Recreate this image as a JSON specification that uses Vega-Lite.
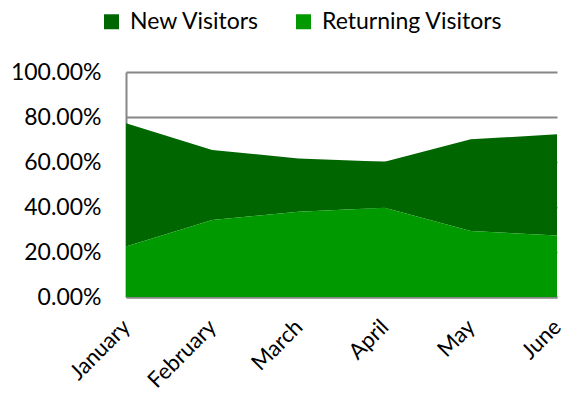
{
  "$schema": "https://vega.github.io/schema/vega-lite/v6.json",
  "autosize": "none",
  "width": 431,
  "height": 225,
  "padding": {"left": 126, "top": 72, "right": 5, "bottom": 103},
  "background": "white",
  "config": {"view": {"stroke": null}, "font": "Lato"},
  "data": {
    "values": [
      {"month": "January", "series": "New Visitors", "value": 0.548},
      {"month": "February", "series": "New Visitors", "value": 0.311},
      {"month": "March", "series": "New Visitors", "value": 0.237},
      {"month": "April", "series": "New Visitors", "value": 0.204},
      {"month": "May", "series": "New Visitors", "value": 0.408},
      {"month": "June", "series": "New Visitors", "value": 0.450},
      {"month": "January", "series": "Returning Visitors", "value": 0.224},
      {"month": "February", "series": "Returning Visitors", "value": 0.342},
      {"month": "March", "series": "Returning Visitors", "value": 0.379},
      {"month": "April", "series": "Returning Visitors", "value": 0.397},
      {"month": "May", "series": "Returning Visitors", "value": 0.293},
      {"month": "June", "series": "Returning Visitors", "value": 0.273}
    ]
  },
  "mark": {"type": "area", "interpolate": "linear"},
  "encoding": {
    "x": {
      "field": "month",
      "type": "ordinal",
      "sort": ["January", "February", "March", "April", "May", "June"],
      "scale": {"type": "point", "padding": 0},
      "axis": {
        "title": null,
        "labelAngle": -45,
        "labelAlign": "right",
        "labelBaseline": "middle",
        "labelFontSize": 22,
        "labelColor": "#000000",
        "labelPadding": 26,
        "labelOverlap": false,
        "labelBound": false,
        "ticks": false,
        "domainColor": "#868686",
        "domainWidth": 2,
        "grid": false
      }
    },
    "y": {
      "field": "value",
      "type": "quantitative",
      "stack": "zero",
      "scale": {"domain": [0, 1], "nice": false},
      "axis": {
        "title": null,
        "format": ".2%",
        "values": [0, 0.2, 0.4, 0.6, 0.8, 1],
        "labelFontSize": 23,
        "labelColor": "#000000",
        "labelPadding": 25,
        "ticks": false,
        "domainColor": "#868686",
        "domainWidth": 2,
        "grid": true,
        "gridColor": "#868686",
        "gridWidth": 2
      }
    },
    "color": {
      "field": "series",
      "type": "nominal",
      "scale": {"domain": ["New Visitors", "Returning Visitors"], "range": ["#006600", "#009900"]},
      "legend": {
        "title": null,
        "orient": "none",
        "direction": "horizontal",
        "legendX": -26,
        "legendY": -62,
        "symbolType": "square",
        "symbolSize": 225,
        "symbolStrokeWidth": 0,
        "symbolOpacity": 1,
        "labelFontSize": 23,
        "labelLimit": 300,
        "labelColor": "#000000",
        "labelOffset": 7,
        "columnPadding": 32
      }
    },
    "order": {"field": "series", "sort": "descending"}
  }
}
